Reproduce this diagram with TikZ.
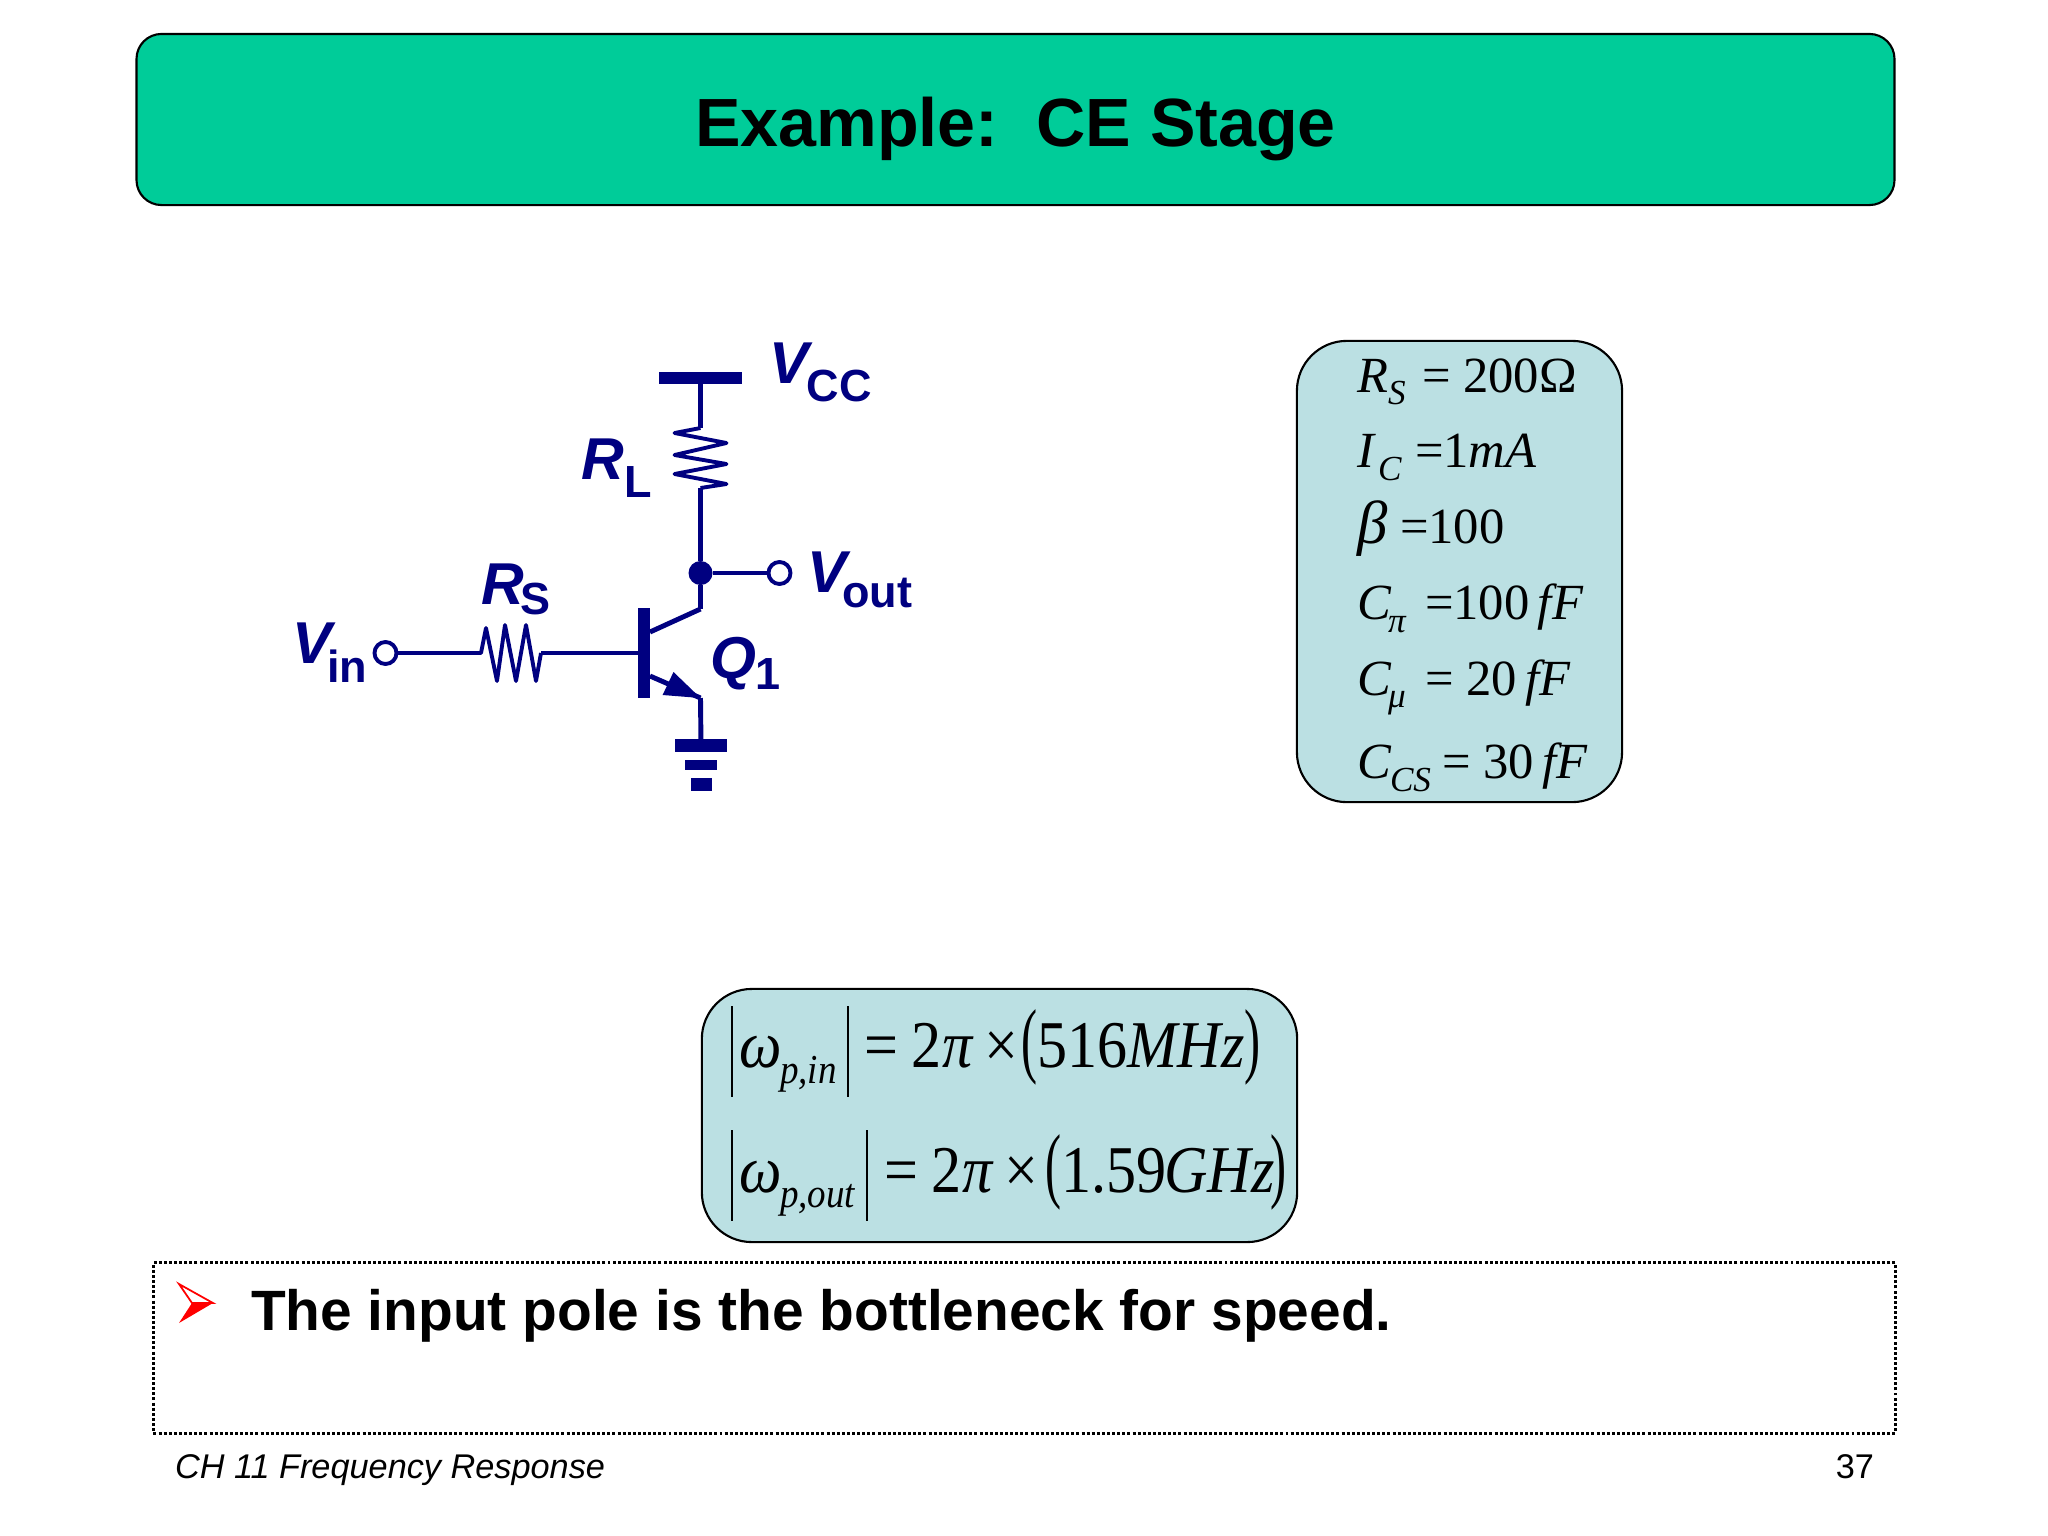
\documentclass[tikz,border=0pt]{standalone}
\usepackage{fontspec}
\usepackage{tikz}
\setmainfont{Liberation Sans}
\newfontfamily\paramfont{Liberation Serif}
\newfontfamily\eqfont[FakeStretch=0.9]{Liberation Serif}
\definecolor{titlegreen}{RGB}{0,204,153}
\definecolor{boxblue}{RGB}{187,224,227}
\definecolor{wirenavy}{RGB}{0,0,128}
\newcommand{\tallparen}[1]{\scalebox{0.8}[1.25]{#1}}
\tikzset{
  every node/.style={inner sep=0, outer sep=0},
  wire/.style={line width=1.4, color=wirenavy},
  resistor/.style={line width=1.1, color=wirenavy, line join=round},
  terminal/.style={circle, draw=wirenavy, fill=white, line width=1.1, minimum size=0.22cm},
  junction/.style={circle, fill=wirenavy, minimum size=0.24cm},
  voltage/.style={anchor=base west, color=wirenavy, font=\fontsize{16.8}{20}\selectfont\bfseries\itshape},
  voltagesub/.style={anchor=base west, color=wirenavy, font=\fontsize{12.8}{15}\selectfont\bfseries},
  roundbox/.style={draw=black, fill=boxblue, line width=0.6, rounded corners=0.5cm},
  param/.style={anchor=base west, font=\fontsize{14.4}{16}\selectfont\paramfont},
  paramsub/.style={anchor=base west, font=\fontsize{10}{12}\selectfont\paramfont\itshape},
  eqn/.style={anchor=base west, font=\fontsize{19}{22}\selectfont\eqfont},
  eqnsub/.style={anchor=base west, font=\fontsize{11.7}{14}\selectfont\eqfont\itshape},
  polebar/.style={line width=0.5, color=black},
}
\begin{document}
\begin{tikzpicture}[x=0.01cm, y=-0.01cm]
\useasboundingbox (0, 0) rectangle (2048, 1536);

\node[draw=black, fill=titlegreen, line width=0.6, rounded corners=0.25cm, minimum width=17.57cm, minimum height=1.71cm] (title box) at (1015.5, 119.5) {};
\node[anchor=base, font=\fontsize{19.4}{24}\selectfont\bfseries] (title) at (1015.5, 146) {Example:\ \ CE Stage};

% circuit
\coordinate (vcc) at (700.5, 378);
\coordinate (rl top) at (700.5, 428);
\coordinate (rl bottom) at (700.5, 488);
\coordinate (collector) at (700.5, 609);
\coordinate (collector base) at (650, 632);
\coordinate (emitter base) at (650, 676);
\coordinate (emitter) at (700.5, 698);
\coordinate (rs in) at (468, 653);
\coordinate (rs out) at (541, 653);
\coordinate (base) at (639, 653);

\node[fill=wirenavy, minimum width=0.83cm, minimum height=0.12cm] (vcc bar) at (700.5, 378) {};
\node[fill=wirenavy, minimum width=0.12cm, minimum height=0.9cm] (base bar) at (644, 653) {};
\node[fill=wirenavy, minimum width=0.51cm, minimum height=0.13cm] (gnd 1) at (701, 745.5) {};
\node[fill=wirenavy, minimum width=0.31cm, minimum height=0.1cm] (gnd 2) at (701, 765) {};
\node[fill=wirenavy, minimum width=0.21cm, minimum height=0.13cm] (gnd 3) at (701, 784.5) {};

\node[junction] (out) at (700.5, 573) {};
\node[terminal] (vout) at (779.5, 573) {};
\node[terminal] (vin) at (385.5, 653) {};

\draw[wire] (vcc) -- (rl top);
\draw[resistor] (rl top) -- ++(-26, 5) -- ++(52, 10) -- ++(-52, 12) -- ++(52, 9) -- ++(-52, 10) -- ++(52, 10) -- (rl bottom);
\draw[wire] (rl bottom) -- (out);
\draw[wire] (out) -- (collector);
\draw[wire] (out) -- (vout);
\draw[wire] (collector) -- (collector base);
\draw[wire] (emitter base) -- (emitter);
\draw[wire] (emitter) -- (gnd 1);
\draw[wire] (vin) -- (rs in);
\draw[resistor] (rs in) -- ++(13, 0) -- ++(5, -25) -- ++(11, 53) -- ++(8, -56) -- ++(11, 56) -- ++(10, -56) -- ++(10, 56) -- (rs out);
\draw[wire] (rs out) -- (base);
\fill[wirenavy] (emitter) -- (673.5, 672) -- (662.6, 695) -- cycle;

\node[voltage] (vcc label) at (769, 383) {V};
\node[voltagesub] (vcc sub) at (806.5, 401) {CC};
\node[voltage] (vout label) at (807, 592) {V};
\node[voltagesub] (vout sub) at (842, 607) {out};
\node[voltage] (rl label) at (581, 479) {R};
\node[voltagesub] (rl sub) at (624, 497) {L};
\node[voltage] (rs label) at (481, 604) {R};
\node[voltagesub] (rs sub) at (520, 614) {S};
\node[voltage] (vin label) at (292, 663) {V};
\node[voltagesub] (vin sub) at (327, 682) {in};
\node[voltage] (q label) at (710, 678) {Q};
\node[voltagesub] (q sub) at (755, 689) {1};

% parameters
\node[roundbox, minimum width=3.25cm, minimum height=4.61cm] (params) at (1459.5, 571.5) {};
\node[param] (rs name) at (1357, 392) {\textit{R}};
\node[paramsub] (rs idx) at (1388, 404) {S};
\node[param] (rs value) at (1422, 392) {= 200Ω};
\node[param] (ic name) at (1357, 467) {\textit{I}};
\node[paramsub] (ic idx) at (1378, 480) {C};
\node[param] (ic value) at (1415, 467) {=1\textit{mA}};
\node[param] (beta name) at (1357, 543) {\scalebox{1.2}{\textit{β}}};
\node[param] (beta value) at (1400, 543) {=100};
\node[param] (cpi name) at (1357, 619) {\textit{C}};
\node[paramsub] (cpi idx) at (1388, 632) {π};
\node[param] (cpi value) at (1425, 619) {=100\,\textit{fF}};
\node[param] (cmu name) at (1357, 695) {\textit{C}};
\node[paramsub] (cmu idx) at (1388, 707) {μ};
\node[param] (cmu value) at (1425, 695) {= 20\,\textit{fF}};
\node[param] (ccs name) at (1357, 778) {\textit{C}};
\node[paramsub] (ccs idx) at (1390, 791) {CS};
\node[param] (ccs value) at (1442, 778) {= 30\,\textit{fF}};

% poles
\node[roundbox, minimum width=5.95cm, minimum height=2.53cm] (poles) at (999.5, 1115.5) {};
\coordinate (pin top left) at (732, 1006);
\coordinate (pin bottom left) at (732, 1097);
\coordinate (pin top right) at (848, 1006);
\coordinate (pin bottom right) at (848, 1097);
\coordinate (pout top left) at (732, 1130);
\coordinate (pout bottom left) at (732, 1221);
\coordinate (pout top right) at (867, 1130);
\coordinate (pout bottom right) at (867, 1221);
\draw[polebar] (pin top left) -- (pin bottom left);
\draw[polebar] (pin top right) -- (pin bottom right);
\draw[polebar] (pout top left) -- (pout bottom left);
\draw[polebar] (pout top right) -- (pout bottom right);
\node[eqn] (pin omega) at (739, 1067) {\textit{ω}};
\node[eqnsub] (pin idx) at (780, 1083) {p,in};
\node[eqn] (pin value) at (864, 1067) {=\hspace{4pt}2\textit{π}\hspace{3pt}×\hspace{1pt}\tallparen{(}516\textit{MHz}\tallparen{)}};
\node[eqn] (pout omega) at (739, 1192) {\textit{ω}};
\node[eqnsub] (pout idx) at (780, 1207) {p,out};
\node[eqn] (pout value) at (884, 1192) {=\hspace{4pt}2\textit{π}\hspace{3pt}×\hspace{2pt}\tallparen{(}1.59\hspace{-0.6pt}\textit{GHz}\hspace{-1.2pt}\tallparen{)}};

% conclusion
\node[draw=black, dash pattern=on 0.85pt off 0.6pt, line width=0.85, minimum width=17.41cm, minimum height=1.7cm] (note) at (1024.5, 1348) {};
\draw[red, line width=0.5, fill=white] (213, 1303) -- (179, 1284) -- (192, 1303) -- cycle;
\fill[red] (213, 1303) -- (192, 1303) -- (179, 1323) -- cycle;
\node[anchor=base west, font=\fontsize{16.17}{18}\selectfont\bfseries] (note text) at (251, 1330) {The input pole is the bottleneck for speed.};

% footer
\node[anchor=base west, font=\fontsize{9.75}{11}\selectfont\itshape] (footer) at (175, 1478) {CH 11 Frequency Response};
\node[anchor=base east, font=\fontsize{9.75}{11}\selectfont] (page) at (1874, 1478) {37};

\end{tikzpicture}
\end{document}
